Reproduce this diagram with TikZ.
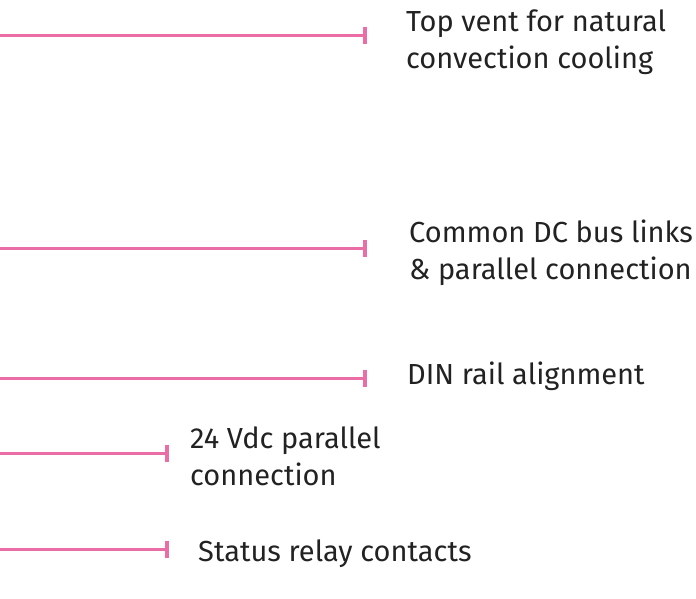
\documentclass[tikz,border=0pt]{standalone}
\usepackage{fontspec}
\setmainfont{Fira Sans}
\usetikzlibrary{arrows.meta}
\definecolor{pinkline}{HTML}{EA6DA6}
\definecolor{txt}{HTML}{222222}
\tikzset{
  callout/.style={draw=pinkline, line width=3pt, -{Bar[width=17pt,line width=4pt]}},
  lbl/.style={anchor=base west, inner sep=0pt, align=left, text=txt,
    font=\fontsize{29}{37}\selectfont}
}
\begin{document}
\begin{tikzpicture}[x=1pt,y=-1pt]
\useasboundingbox (0,0) rectangle (696,598);
% line start points and end points
\coordinate (s1) at (0,35);  \coordinate (e1) at (367,35);
\coordinate (s2) at (0,248); \coordinate (e2) at (367,248);
\coordinate (s3) at (0,378); \coordinate (e3) at (367,378);
\coordinate (s4) at (0,453); \coordinate (e4) at (169,453);
\coordinate (s5) at (0,549); \coordinate (e5) at (169,549);
\draw[callout] (s1) -- (e1);
\draw[callout] (s2) -- (e2);
\draw[callout] (s3) -- (e3);
\draw[callout] (s4) -- (e4);
\draw[callout] (s5) -- (e5);
% multi-line nodes: base anchor is the last line's baseline
\node[lbl] (t1) at (406,68) {Top vent for natural\\convection cooling};
\node[lbl] (t2) at (409,279) {Common DC bus links\\\&~parallel connection};
\node[lbl] (t3) at (407,384) {DIN rail alignment};
\node[lbl] (t4) at (190,485) {24 Vdc parallel\\connection};
\node[lbl] (t5) at (198,561) {Status relay contacts};
\end{tikzpicture}
\end{document}
